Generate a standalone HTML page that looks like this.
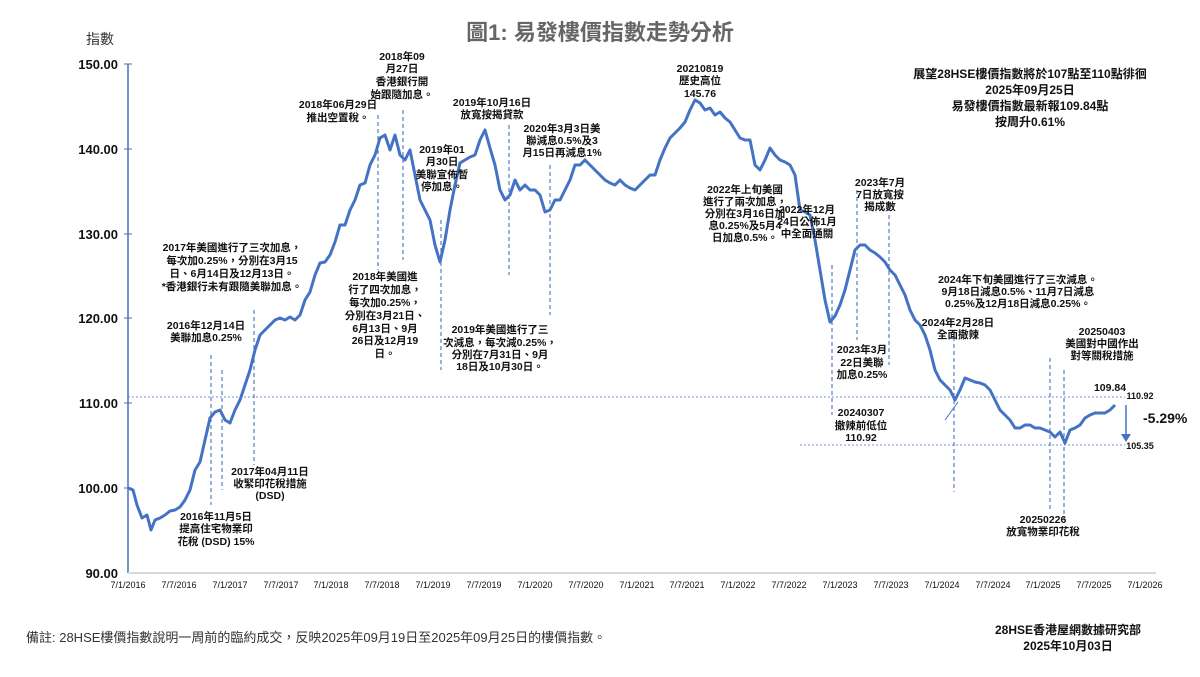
<!DOCTYPE html>
<html><head><meta charset="utf-8"><style>
body{margin:0;background:#fff;width:1200px;height:672px;overflow:hidden}
svg text{font-family:"Liberation Sans","Noto Sans CJK TC",sans-serif;fill:#111}
.b{font-weight:bold;font-size:10.5px}
.t{font-size:9px;fill:#777}
.y{font-size:13px;font-weight:bold;fill:#555}
.d{stroke:#4472c4;stroke-width:1.1;stroke-dasharray:4,3;fill:none}
</style></head><body>
<svg width="1200" height="672" xmlns="http://www.w3.org/2000/svg">
<text x="600" y="40" text-anchor="middle" style="font-size:22px;font-weight:bold;fill:#666">圖1: 易發樓價指數走勢分析</text>
<text x="100" y="44" text-anchor="middle" style="font-size:14px;fill:#333">指數</text>
<g class="y" text-anchor="end">
<text x="118" y="69">150.00</text><text x="118" y="154">140.00</text><text x="118" y="239">130.00</text>
<text x="118" y="323">120.00</text><text x="118" y="408">110.00</text><text x="118" y="493">100.00</text><text x="118" y="578">90.00</text>
</g>
<line x1="128" y1="64" x2="128" y2="573" stroke="#4472c4" stroke-width="1.5"/>
<g stroke="#4472c4" stroke-width="1">
<line x1="124" y1="64" x2="132" y2="64"/><line x1="124" y1="149" x2="132" y2="149"/><line x1="124" y1="234" x2="132" y2="234"/><line x1="124" y1="318" x2="132" y2="318"/><line x1="124" y1="403" x2="132" y2="403"/><line x1="124" y1="488" x2="132" y2="488"/>
</g>
<line x1="128" y1="573" x2="1156" y2="573" stroke="#d9d9d9" stroke-width="2"/>
<g class="t" text-anchor="middle">
<text x="128" y="588">7/1/2016</text><text x="179" y="588">7/7/2016</text><text x="230" y="588">7/1/2017</text><text x="281" y="588">7/7/2017</text><text x="331" y="588">7/1/2018</text><text x="382" y="588">7/7/2018</text><text x="433" y="588">7/1/2019</text><text x="484" y="588">7/7/2019</text><text x="535" y="588">7/1/2020</text><text x="586" y="588">7/7/2020</text><text x="637" y="588">7/1/2021</text><text x="687" y="588">7/7/2021</text><text x="738" y="588">7/1/2022</text><text x="789" y="588">7/7/2022</text><text x="840" y="588">7/1/2023</text><text x="891" y="588">7/7/2023</text><text x="942" y="588">7/1/2024</text><text x="993" y="588">7/7/2024</text><text x="1043" y="588">7/1/2025</text><text x="1094" y="588">7/7/2025</text><text x="1145" y="588">7/1/2026</text>
</g>
<line x1="128" y1="397" x2="1125" y2="397" stroke="#4472c4" stroke-width="0.8" stroke-dasharray="2,2"/>
<line x1="800" y1="445" x2="1125" y2="445" stroke="#4472c4" stroke-width="0.8" stroke-dasharray="2,2"/>
<g class="d">
<line x1="211" y1="355" x2="211" y2="505"/><line x1="222" y1="370" x2="222" y2="490"/><line x1="254" y1="310" x2="254" y2="465"/>
<line x1="378" y1="115" x2="378" y2="270"/><line x1="403" y1="110" x2="403" y2="260"/><line x1="441" y1="220" x2="441" y2="370"/>
<line x1="509" y1="125" x2="509" y2="275"/><line x1="550" y1="165" x2="550" y2="315"/>
<line x1="832" y1="265" x2="832" y2="415"/><line x1="857" y1="190" x2="857" y2="340"/><line x1="889" y1="215" x2="889" y2="365"/>
<line x1="954" y1="330" x2="954" y2="492"/><line x1="1050" y1="358" x2="1050" y2="510"/><line x1="1064" y1="370" x2="1064" y2="520"/>
</g>
<polyline fill="none" stroke="#4472c4" stroke-width="3" stroke-linejoin="round" points="128,488 133,490 137,505 142,518 147,515 151,530 155,520 160,518 165,515 170,511 175,510 180,507 185,500 190,490 195,470 200,462 205,440 210,418 215,412 220,410 225,420 230,423 235,410 240,400 245,385 250,370 255,350 260,335 265,330 270,325 275,320 280,318 285,320 290,317 295,320 300,315 305,300 310,292 315,275 320,263 325,262 330,255 335,242 340,225 345,225 350,210 355,200 360,185 365,183 370,165 375,155 380,138 385,135 390,150 395,135 400,155 405,160 410,150 415,175 420,200 425,210 430,220 435,245 440,262 445,240 450,210 455,185 460,163 465,160 470,157 475,155 480,140 485,130 490,148 495,165 500,190 505,200 510,195 515,180 520,190 525,185 530,190 535,190 540,195 545,212 550,210 555,200 560,200 565,190 570,180 575,165 580,165 585,160 590,165 595,170 600,175 605,180 610,183 615,185 620,180 625,185 630,188 635,190 640,185 645,180 650,175 655,175 660,160 665,148 670,138 675,133 680,128 685,122 690,110 695,100 700,103 705,110 710,108 715,115 720,112 725,118 730,122 735,130 740,138 745,140 750,140 755,165 760,170 765,160 770,148 775,155 780,160 785,162 790,165 795,175 800,210 805,212 810,215 815,240 820,270 825,300 830,322 835,316 840,305 845,290 850,270 855,250 860,245 865,245 870,250 875,253 880,257 885,262 890,270 895,275 900,285 905,295 910,310 915,320 920,325 925,335 930,350 935,370 940,380 945,385 950,390 955,400 960,390 965,378 970,380 975,382 980,383 985,385 990,390 995,400 1000,410 1005,415 1010,420 1015,428 1020,428 1025,425 1030,425 1035,428 1040,428 1045,430 1050,432 1055,437 1060,432 1065,443 1070,430 1075,428 1080,425 1085,418 1090,415 1095,413 1100,413 1105,413 1110,410 1115,405"/>
<line x1="945" y1="420" x2="958" y2="402" stroke="#4472c4" stroke-width="1"/>
<line x1="1126" y1="405" x2="1126" y2="438" stroke="#4472c4" stroke-width="1.5"/><polygon points="1121,434 1131,434 1126,442" fill="#4472c4"/>
<g class="b" text-anchor="middle">
<text x="232" y="251">2017年美國進行了三次加息，</text><text x="232" y="264">每次加0.25%，分別在3月15</text><text x="232" y="277">日、6月14日及12月13日。</text><text x="232" y="290">*香港銀行未有跟隨美聯加息。</text>
<text x="206" y="329">2016年12月14日</text><text x="206" y="341">美聯加息0.25%</text>
<text x="216" y="520">2016年11月5日</text><text x="216" y="532">提高住宅物業印</text><text x="216" y="545">花稅 (DSD) 15%</text>
<text x="270" y="475">2017年04月11日</text><text x="270" y="487">收緊印花稅措施</text><text x="270" y="499">(DSD)</text>
<text x="338" y="108">2018年06月29日</text><text x="338" y="121">推出空置稅。</text>
<text x="402" y="60">2018年09</text><text x="402" y="72">月27日</text><text x="402" y="85">香港銀行開</text><text x="402" y="98">始跟隨加息。</text>
<text x="385" y="280">2018年美國進</text><text x="385" y="293">行了四次加息，</text><text x="385" y="306">每次加0.25%，</text><text x="385" y="319">分別在3月21日、</text><text x="385" y="332">6月13日、9月</text><text x="385" y="344">26日及12月19</text><text x="385" y="357">日。</text>
<text x="442" y="153">2019年01</text><text x="442" y="165">月30日</text><text x="442" y="178">美聯宣佈暫</text><text x="442" y="190">停加息。</text>
<text x="492" y="106">2019年10月16日</text><text x="492" y="118">放寬按揭貸款</text>
<text x="562" y="132">2020年3月3日美</text><text x="562" y="144">聯減息0.5%及3</text><text x="562" y="156">月15日再減息1%</text>
<text x="500" y="333">2019年美國進行了三</text><text x="500" y="346">次減息，每次減0.25%，</text><text x="500" y="358">分別在7月31日、9月</text><text x="500" y="370">18日及10月30日。</text>
<text x="700" y="72">20210819</text><text x="700" y="84">歷史高位</text><text x="700" y="97">145.76</text>
<text x="745" y="193">2022年上旬美國</text><text x="745" y="205">進行了兩次加息，</text><text x="745" y="217">分別在3月16日加</text><text x="745" y="229">息0.25%及5月4</text><text x="745" y="241">日加息0.5%。</text>
<text x="807" y="213">2022年12月</text><text x="807" y="225">24日公佈1月</text><text x="807" y="237">中全面通關</text>
<text x="880" y="186">2023年7月</text><text x="880" y="198">7日放寬按</text><text x="880" y="210">揭成數</text>
<text x="862" y="353">2023年3月</text><text x="862" y="366">22日美聯</text><text x="862" y="378">加息0.25%</text>
<text x="1018" y="283">2024年下旬美國進行了三次減息。</text><text x="1018" y="295">9月18日減息0.5%、11月7日減息</text><text x="1018" y="307">0.25%及12月18日減息0.25%。</text>
<text x="958" y="326">2024年2月28日</text><text x="958" y="338">全面撤辣</text>
<text x="1102" y="335">20250403</text><text x="1102" y="347">美國對中國作出</text><text x="1102" y="359">對等關稅措施</text>
<text x="861" y="416">20240307</text><text x="861" y="429">撤辣前低位</text><text x="861" y="441">110.92</text>
<text x="1110" y="391">109.84</text>
<text x="1043" y="523">20250226</text><text x="1043" y="535">放寬物業印花稅</text>
</g>
<text x="1140" y="399" text-anchor="middle" style="font-size:9px;font-weight:bold">110.92</text>
<text x="1140" y="449" text-anchor="middle" style="font-size:9px;font-weight:bold">105.35</text>
<text x="1143" y="423" style="font-size:14px;font-weight:bold">-5.29%</text>
<g text-anchor="middle" style="font-size:12px">
<text x="1030" y="78" style="font-size:12px;font-weight:bold">展望28HSE樓價指數將於107點至110點徘徊</text>
<text x="1030" y="94" style="font-size:12px;font-weight:bold">2025年09月25日</text>
<text x="1030" y="110" style="font-size:12px;font-weight:bold">易發樓價指數最新報109.84點</text>
<text x="1030" y="126" style="font-size:12px;font-weight:bold">按周升0.61%</text>
</g>
<text x="26" y="642" style="font-size:13px;fill:#333">備註: 28HSE樓價指數說明一周前的臨約成交，反映2025年09月19日至2025年09月25日的樓價指數。</text>
<text x="1068" y="634" text-anchor="middle" style="font-size:12px;font-weight:bold">28HSE香港屋網數據研究部</text>
<text x="1068" y="650" text-anchor="middle" style="font-size:12px;font-weight:bold">2025年10月03日</text>
</svg>
</body></html>
